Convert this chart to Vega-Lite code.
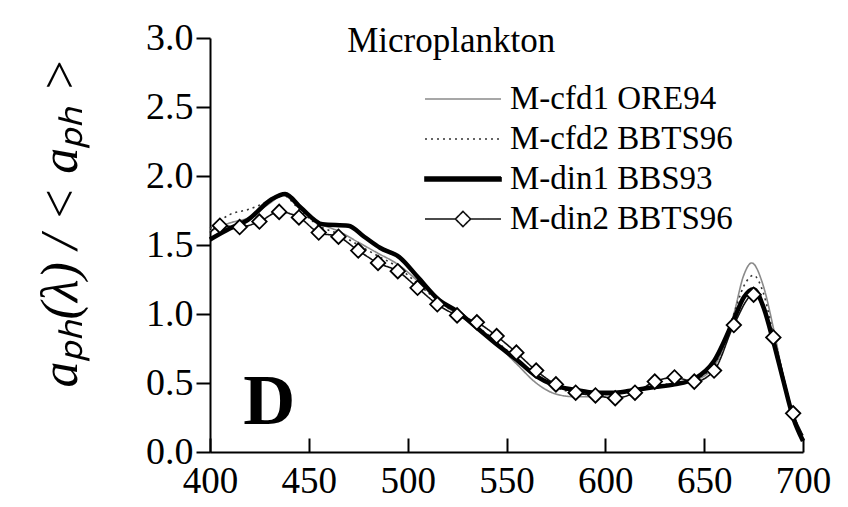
{
  "$schema": "https://vega.github.io/schema/vega-lite/v6.json",
  "width": 593,
  "height": 414,
  "autosize": {"type": "none"},
  "padding": {"left": 210, "top": 38, "right": 45, "bottom": 55},
  "background": "white",
  "config": {
    "view": {"stroke": null},
    "axis": {
      "grid": false,
      "domainColor": "black",
      "domainWidth": 2,
      "tickColor": "black",
      "tickWidth": 2,
      "labelColor": "black",
      "labelFont": "Liberation Serif",
      "titleFont": "Liberation Serif",
      "titleColor": "black"
    },
    "legend": {
      "labelFont": "Liberation Serif",
      "labelColor": "black"
    }
  },
  "datasets": {
    "spectra": [
      {"s": "M-cfd1 ORE94", "wl": 400, "v": 1.60}, {"s": "M-cfd1 ORE94", "wl": 410, "v": 1.66}, {"s": "M-cfd1 ORE94", "wl": 420, "v": 1.70}, {"s": "M-cfd1 ORE94", "wl": 430, "v": 1.80}, {"s": "M-cfd1 ORE94", "wl": 437, "v": 1.86}, {"s": "M-cfd1 ORE94", "wl": 445, "v": 1.77}, {"s": "M-cfd1 ORE94", "wl": 455, "v": 1.66}, {"s": "M-cfd1 ORE94", "wl": 465, "v": 1.60}, {"s": "M-cfd1 ORE94", "wl": 475, "v": 1.52}, {"s": "M-cfd1 ORE94", "wl": 485, "v": 1.44}, {"s": "M-cfd1 ORE94", "wl": 495, "v": 1.36}, {"s": "M-cfd1 ORE94", "wl": 505, "v": 1.24}, {"s": "M-cfd1 ORE94", "wl": 515, "v": 1.10}, {"s": "M-cfd1 ORE94", "wl": 525, "v": 1.00}, {"s": "M-cfd1 ORE94", "wl": 535, "v": 0.90}, {"s": "M-cfd1 ORE94", "wl": 545, "v": 0.78}, {"s": "M-cfd1 ORE94", "wl": 555, "v": 0.64}, {"s": "M-cfd1 ORE94", "wl": 565, "v": 0.50}, {"s": "M-cfd1 ORE94", "wl": 575, "v": 0.42}, {"s": "M-cfd1 ORE94", "wl": 585, "v": 0.40}, {"s": "M-cfd1 ORE94", "wl": 595, "v": 0.40}, {"s": "M-cfd1 ORE94", "wl": 605, "v": 0.42}, {"s": "M-cfd1 ORE94", "wl": 615, "v": 0.45}, {"s": "M-cfd1 ORE94", "wl": 625, "v": 0.47}, {"s": "M-cfd1 ORE94", "wl": 635, "v": 0.50}, {"s": "M-cfd1 ORE94", "wl": 645, "v": 0.52}, {"s": "M-cfd1 ORE94", "wl": 655, "v": 0.62}, {"s": "M-cfd1 ORE94", "wl": 665, "v": 1.00}, {"s": "M-cfd1 ORE94", "wl": 670, "v": 1.28}, {"s": "M-cfd1 ORE94", "wl": 674, "v": 1.37}, {"s": "M-cfd1 ORE94", "wl": 680, "v": 1.20}, {"s": "M-cfd1 ORE94", "wl": 685, "v": 0.90}, {"s": "M-cfd1 ORE94", "wl": 690, "v": 0.55}, {"s": "M-cfd1 ORE94", "wl": 695, "v": 0.28}, {"s": "M-cfd1 ORE94", "wl": 700, "v": 0.10},

      {"s": "M-cfd2 BBTS96", "wl": 400, "v": 1.62}, {"s": "M-cfd2 BBTS96", "wl": 410, "v": 1.72}, {"s": "M-cfd2 BBTS96", "wl": 420, "v": 1.76}, {"s": "M-cfd2 BBTS96", "wl": 430, "v": 1.82}, {"s": "M-cfd2 BBTS96", "wl": 437, "v": 1.86}, {"s": "M-cfd2 BBTS96", "wl": 445, "v": 1.76}, {"s": "M-cfd2 BBTS96", "wl": 455, "v": 1.64}, {"s": "M-cfd2 BBTS96", "wl": 465, "v": 1.58}, {"s": "M-cfd2 BBTS96", "wl": 475, "v": 1.50}, {"s": "M-cfd2 BBTS96", "wl": 485, "v": 1.42}, {"s": "M-cfd2 BBTS96", "wl": 495, "v": 1.34}, {"s": "M-cfd2 BBTS96", "wl": 505, "v": 1.22}, {"s": "M-cfd2 BBTS96", "wl": 515, "v": 1.10}, {"s": "M-cfd2 BBTS96", "wl": 525, "v": 1.00}, {"s": "M-cfd2 BBTS96", "wl": 535, "v": 0.91}, {"s": "M-cfd2 BBTS96", "wl": 545, "v": 0.80}, {"s": "M-cfd2 BBTS96", "wl": 555, "v": 0.68}, {"s": "M-cfd2 BBTS96", "wl": 565, "v": 0.56}, {"s": "M-cfd2 BBTS96", "wl": 575, "v": 0.47}, {"s": "M-cfd2 BBTS96", "wl": 585, "v": 0.43}, {"s": "M-cfd2 BBTS96", "wl": 595, "v": 0.42}, {"s": "M-cfd2 BBTS96", "wl": 605, "v": 0.42}, {"s": "M-cfd2 BBTS96", "wl": 615, "v": 0.45}, {"s": "M-cfd2 BBTS96", "wl": 625, "v": 0.48}, {"s": "M-cfd2 BBTS96", "wl": 635, "v": 0.50}, {"s": "M-cfd2 BBTS96", "wl": 645, "v": 0.53}, {"s": "M-cfd2 BBTS96", "wl": 655, "v": 0.63}, {"s": "M-cfd2 BBTS96", "wl": 665, "v": 1.00}, {"s": "M-cfd2 BBTS96", "wl": 670, "v": 1.20}, {"s": "M-cfd2 BBTS96", "wl": 675, "v": 1.28}, {"s": "M-cfd2 BBTS96", "wl": 680, "v": 1.15}, {"s": "M-cfd2 BBTS96", "wl": 685, "v": 0.85}, {"s": "M-cfd2 BBTS96", "wl": 690, "v": 0.55}, {"s": "M-cfd2 BBTS96", "wl": 695, "v": 0.25}, {"s": "M-cfd2 BBTS96", "wl": 700, "v": 0.10},

      {"s": "M-din1 BBS93", "wl": 400, "v": 1.54}, {"s": "M-din1 BBS93", "wl": 410, "v": 1.62}, {"s": "M-din1 BBS93", "wl": 419, "v": 1.68}, {"s": "M-din1 BBS93", "wl": 431, "v": 1.83}, {"s": "M-din1 BBS93", "wl": 438, "v": 1.87}, {"s": "M-din1 BBS93", "wl": 446, "v": 1.77}, {"s": "M-din1 BBS93", "wl": 457, "v": 1.65}, {"s": "M-din1 BBS93", "wl": 470, "v": 1.64}, {"s": "M-din1 BBS93", "wl": 478, "v": 1.56}, {"s": "M-din1 BBS93", "wl": 486, "v": 1.48}, {"s": "M-din1 BBS93", "wl": 496, "v": 1.41}, {"s": "M-din1 BBS93", "wl": 505, "v": 1.27}, {"s": "M-din1 BBS93", "wl": 516, "v": 1.10}, {"s": "M-din1 BBS93", "wl": 525, "v": 1.02}, {"s": "M-din1 BBS93", "wl": 535, "v": 0.90}, {"s": "M-din1 BBS93", "wl": 545, "v": 0.78}, {"s": "M-din1 BBS93", "wl": 555, "v": 0.67}, {"s": "M-din1 BBS93", "wl": 565, "v": 0.55}, {"s": "M-din1 BBS93", "wl": 575, "v": 0.48}, {"s": "M-din1 BBS93", "wl": 585, "v": 0.45}, {"s": "M-din1 BBS93", "wl": 595, "v": 0.43}, {"s": "M-din1 BBS93", "wl": 605, "v": 0.43}, {"s": "M-din1 BBS93", "wl": 615, "v": 0.45}, {"s": "M-din1 BBS93", "wl": 625, "v": 0.47}, {"s": "M-din1 BBS93", "wl": 635, "v": 0.49}, {"s": "M-din1 BBS93", "wl": 645, "v": 0.53}, {"s": "M-din1 BBS93", "wl": 655, "v": 0.66}, {"s": "M-din1 BBS93", "wl": 665, "v": 0.96}, {"s": "M-din1 BBS93", "wl": 670, "v": 1.12}, {"s": "M-din1 BBS93", "wl": 675, "v": 1.18}, {"s": "M-din1 BBS93", "wl": 680, "v": 1.05}, {"s": "M-din1 BBS93", "wl": 685, "v": 0.80}, {"s": "M-din1 BBS93", "wl": 690, "v": 0.52}, {"s": "M-din1 BBS93", "wl": 695, "v": 0.25}, {"s": "M-din1 BBS93", "wl": 700, "v": 0.08},

      {"s": "M-din2 BBTS96", "wl": 400, "v": 1.59}, {"s": "M-din2 BBTS96", "wl": 405, "v": 1.64}, {"s": "M-din2 BBTS96", "wl": 415, "v": 1.63}, {"s": "M-din2 BBTS96", "wl": 425, "v": 1.67}, {"s": "M-din2 BBTS96", "wl": 435, "v": 1.74}, {"s": "M-din2 BBTS96", "wl": 445, "v": 1.70}, {"s": "M-din2 BBTS96", "wl": 455, "v": 1.59}, {"s": "M-din2 BBTS96", "wl": 465, "v": 1.56}, {"s": "M-din2 BBTS96", "wl": 475, "v": 1.46}, {"s": "M-din2 BBTS96", "wl": 485, "v": 1.37}, {"s": "M-din2 BBTS96", "wl": 495, "v": 1.31}, {"s": "M-din2 BBTS96", "wl": 505, "v": 1.19}, {"s": "M-din2 BBTS96", "wl": 515, "v": 1.07}, {"s": "M-din2 BBTS96", "wl": 525, "v": 0.99}, {"s": "M-din2 BBTS96", "wl": 535, "v": 0.94}, {"s": "M-din2 BBTS96", "wl": 545, "v": 0.84}, {"s": "M-din2 BBTS96", "wl": 555, "v": 0.72}, {"s": "M-din2 BBTS96", "wl": 565, "v": 0.59}, {"s": "M-din2 BBTS96", "wl": 575, "v": 0.49}, {"s": "M-din2 BBTS96", "wl": 585, "v": 0.43}, {"s": "M-din2 BBTS96", "wl": 595, "v": 0.41}, {"s": "M-din2 BBTS96", "wl": 605, "v": 0.39}, {"s": "M-din2 BBTS96", "wl": 615, "v": 0.43}, {"s": "M-din2 BBTS96", "wl": 625, "v": 0.51}, {"s": "M-din2 BBTS96", "wl": 635, "v": 0.54}, {"s": "M-din2 BBTS96", "wl": 645, "v": 0.51}, {"s": "M-din2 BBTS96", "wl": 655, "v": 0.59}, {"s": "M-din2 BBTS96", "wl": 665, "v": 0.92}, {"s": "M-din2 BBTS96", "wl": 675, "v": 1.14}, {"s": "M-din2 BBTS96", "wl": 685, "v": 0.83}, {"s": "M-din2 BBTS96", "wl": 695, "v": 0.28}, {"s": "M-din2 BBTS96", "wl": 700, "v": 0.12}
    ]
  },
  "layer": [
    {
      "data": {"name": "spectra"},
      "mark": {"type": "line", "interpolate": "monotone", "strokeWidth": 1.6},
      "encoding": {
        "x": {
          "field": "wl", "type": "quantitative",
          "scale": {"domain": [400, 700], "nice": false, "zero": false},
          "axis": {
            "title": null, "values": [400, 450, 500, 550, 600, 650, 700],
            "labelFontSize": 37, "tickSize": -14, "labelPadding": 25,
            "labelFlush": false, "labelOverlap": false
          }
        },
        "y": {
          "field": "v", "type": "quantitative",
          "scale": {"domain": [0, 3], "nice": false},
          "axis": {
            "title": "aₚₕ(λ) / < aₚₕ >",
            "values": [0, 0.5, 1, 1.5, 2, 2.5, 3], "format": ".1f",
            "labelFontSize": 38, "tickSize": 14, "labelPadding": 3,
            "labelFlush": false, "labelOverlap": false,
            "titleFontSize": 52, "titleFontStyle": "italic", "titleFontWeight": "normal",
            "titleAngle": -90, "titleX": -150, "titleY": 184,
            "titleAlign": "center", "titleBaseline": "middle"
          }
        },
        "color": {
          "field": "s", "type": "nominal",
          "scale": {"domain": ["M-cfd1 ORE94", "M-cfd2 BBTS96", "M-din1 BBS93", "M-din2 BBTS96"], "range": ["#8a8a8a", "#333333", "#000000", "#111111"]},
          "legend": {
            "title": null, "orient": "none", "legendX": 214, "legendY": 46,
            "padding": 0, "labelFontSize": 33, "labelOffset": 8, "labelLimit": 400,
            "symbolType": "stroke", "symbolSize": 5776, "clipHeight": 30, "rowPadding": 7,
            "symbolStrokeWidth": 1.6,
            "encode": {
              "symbols": {
                "update": {
                  "shape": {"signal": "datum.value === 'M-din2 BBTS96' ? 'M-1,0H-0.2M-0.2,0L0,-0.2L0.2,0L0,0.2ZM0.2,0H1' : (datum.value === 'M-din1 BBS93' ? 'M-1,-0.05H1V0.05H-1Z' : 'stroke')"},
                  "fill": {"signal": "datum.value === 'M-din1 BBS93' ? 'black' : 'white'"}
                }
              }
            }
          }
        },
        "strokeDash": {
          "field": "s", "type": "nominal",
          "scale": {"domain": ["M-cfd1 ORE94", "M-cfd2 BBTS96", "M-din1 BBS93", "M-din2 BBTS96"], "range": [[1, 0], [2, 4], [1, 0], [1, 0]]}
        }
      }
    },
    {
      "data": {"name": "spectra"},
      "transform": [{"filter": "datum.s === 'M-din1 BBS93'"}],
      "mark": {"type": "line", "interpolate": "monotone", "stroke": "black", "strokeWidth": 4.5},
      "encoding": {
        "x": {"field": "wl", "type": "quantitative"},
        "y": {"field": "v", "type": "quantitative"}
      }
    },
    {
      "data": {"name": "spectra"},
      "transform": [{"filter": "datum.s === 'M-din2 BBTS96' && datum.wl % 10 === 5"}],
      "mark": {"type": "point", "shape": "diamond", "filled": true, "fill": "white", "stroke": "black", "strokeWidth": 1.8, "size": 210, "opacity": 1},
      "encoding": {
        "x": {"field": "wl", "type": "quantitative"},
        "y": {"field": "v", "type": "quantitative"}
      }
    },
    {
      "data": {"values": [{"label": "Microplankton"}]},
      "mark": {"type": "text", "font": "Liberation Serif", "fontSize": 35, "fill": "black", "baseline": "middle", "align": "center"},
      "encoding": {
        "x": {"datum": 522, "type": "quantitative"},
        "y": {"datum": 2.98, "type": "quantitative"},
        "text": {"field": "label", "type": "nominal"}
      }
    },
    {
      "data": {"values": [{"label": "D"}]},
      "mark": {"type": "text", "font": "Liberation Serif", "fontSize": 72, "fontWeight": "bold", "fill": "black", "baseline": "middle", "align": "center"},
      "encoding": {
        "x": {"datum": 430, "type": "quantitative"},
        "y": {"datum": 0.36, "type": "quantitative"},
        "text": {"field": "label", "type": "nominal"}
      }
    }
  ]
}
